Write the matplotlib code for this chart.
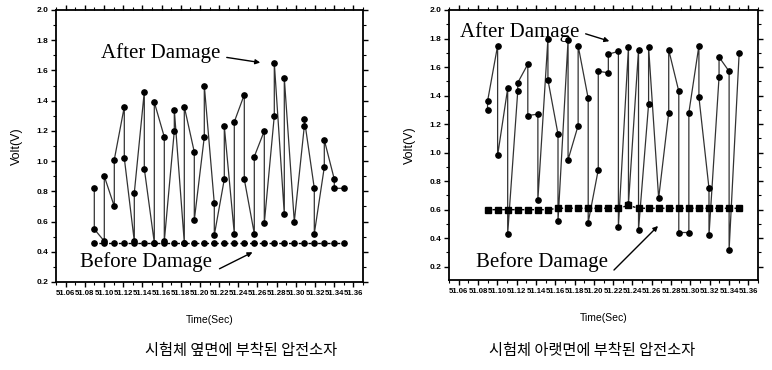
import matplotlib
matplotlib.use("Agg")
import matplotlib.pyplot as plt
from matplotlib.ticker import MultipleLocator, FixedLocator
import numpy as np

plt.rcParams['font.family'] = ['Liberation Sans', 'Noto Sans CJK KR', 'DejaVu Sans']

# ---------------- data ----------------
time_labels = ["51.06", "51.08", "51.10", "51.12", "51.14", "51.16", "51.18", "51.20",
               "51.22", "51.24", "51.26", "51.28", "51.30", "51.32", "51.34", "51.36"]

sample_times = [51.10, 51.11, 51.12, 51.13, 51.14, 51.15, 51.16, 51.17, 51.18, 51.19,
                51.20, 51.21, 51.22, 51.23, 51.24, 51.25, 51.26, 51.27, 51.28, 51.29,
                51.30, 51.31, 51.32, 51.33, 51.34, 51.35]

# Side-mounted sensor (left panel)
side_before = [0.46, 0.46, 0.46, 0.46, 0.46, 0.46, 0.46, 0.46, 0.46, 0.46, 0.46, 0.46, 0.46,
               0.46, 0.46, 0.46, 0.46, 0.46, 0.46, 0.46, 0.46, 0.46, 0.46, 0.46, 0.46, 0.46]
side_after_t = [51.10, 51.10, 51.11, 51.11, 51.12, 51.12, 51.13, 51.13, 51.14, 51.14,
                51.15, 51.15, 51.16, 51.16, 51.17, 51.17, 51.18, 51.18, 51.19, 51.19,
                51.20, 51.20, 51.21, 51.21, 51.22, 51.22, 51.23, 51.23, 51.24, 51.24,
                51.25, 51.25, 51.26, 51.26, 51.27, 51.27, 51.28, 51.28, 51.29, 51.29,
                51.30, 51.31, 51.31, 51.32, 51.32, 51.33, 51.33, 51.34, 51.34, 51.35]
side_after_v = [0.82, 0.55, 0.47, 0.90, 0.70, 1.01, 1.36, 1.02, 0.47, 0.79,
                1.46, 0.95, 0.46, 1.39, 1.16, 0.47, 1.20, 1.34, 0.46, 1.36,
                1.06, 0.61, 1.16, 1.50, 0.72, 0.51, 0.88, 1.23, 0.52, 1.26,
                1.44, 0.88, 0.52, 1.03, 1.20, 0.59, 1.30, 1.65, 0.65, 1.55,
                0.60, 1.23, 1.28, 0.82, 0.52, 0.96, 1.14, 0.88, 0.82, 0.82]

# Bottom-mounted sensor (right panel)
bottom_before = [0.60, 0.60, 0.60, 0.60, 0.60, 0.60, 0.60, 0.61, 0.61, 0.61, 0.61, 0.61, 0.61,
                 0.61, 0.63, 0.61, 0.61, 0.61, 0.61, 0.61, 0.61, 0.61, 0.61, 0.61, 0.61, 0.61]
bottom_after_t = [51.10, 51.10, 51.11, 51.11, 51.12, 51.12, 51.13, 51.13, 51.14, 51.14,
                  51.15, 51.15, 51.16, 51.16, 51.17, 51.17, 51.18, 51.18, 51.19, 51.19,
                  51.20, 51.20, 51.21, 51.21, 51.22, 51.22, 51.23, 51.23, 51.24, 51.24,
                  51.25, 51.25, 51.26, 51.26, 51.27, 51.28, 51.28, 51.29, 51.29, 51.30,
                  51.30, 51.31, 51.31, 51.32, 51.32, 51.33, 51.33, 51.34, 51.34, 51.35]
bottom_after_v = [1.30, 1.36, 1.75, 0.98, 1.45, 0.43, 1.43, 1.49, 1.62, 1.26,
                  1.27, 0.67, 1.80, 1.51, 1.13, 0.52, 1.79, 0.95, 1.19, 1.75,
                  1.38, 0.51, 0.88, 1.57, 1.56, 1.69, 1.71, 0.48, 1.74, 0.64,
                  1.72, 0.46, 1.34, 1.74, 0.68, 1.28, 1.72, 1.43, 0.44, 0.44,
                  1.28, 1.75, 1.39, 0.75, 0.42, 1.53, 1.67, 1.57, 0.32, 1.70]

captions = ["시험체 옆면에 부착된 압전소자", "시험체 아랫면에 부착된 압전소자"]

# ---------------- figure ----------------
W, H = 772, 370
fig = plt.figure(figsize=(W / 100, H / 100), dpi=100)


def fx(x):
    return x / W


def fy(y):
    return 1 - y / H


ax1 = fig.add_axes([fx(56), fy(282), fx(363) - fx(56), fy(10) - fy(282)])
ax2 = fig.add_axes([fx(449), fy(280), fx(758) - fx(449), fy(10) - fy(280)])

xlim = (51.0617, 51.3687)


def style(ax, ylim):
    ax.set_xlim(*xlim)
    ax.set_ylim(*ylim)
    w = xlim[1] - xlim[0]
    pos = [xlim[0] + (k + 0.5) * w / len(time_labels) for k in range(len(time_labels))]
    ax.xaxis.set_major_locator(FixedLocator(pos))
    ax.set_xticklabels(time_labels, fontsize=5.6, fontweight='bold')
    minor = [xlim[0] + k * w / len(time_labels) for k in range(len(time_labels) + 1)]
    ax.xaxis.set_minor_locator(FixedLocator(minor))
    ax.yaxis.set_minor_locator(MultipleLocator(0.1))
    ax.set_yticks(np.arange(0.2, 2.01, 0.2))
    ax.set_yticklabels([f"{v:.1f}" for v in np.arange(0.2, 2.01, 0.2)], fontsize=6.0, fontweight='bold')
    ax.tick_params(axis='both', which='major', direction='out', length=3.5, width=1.0, pad=2,
                   top=True, right=True)
    ax.tick_params(axis='both', which='minor', direction='out', length=2, width=0.8,
                   top=True, right=True)
    for s in ax.spines.values():
        s.set_linewidth(1.3)
    ax.set_ylabel("Volt(V)", fontsize=9, labelpad=10)
    ax.set_xlabel("Time(Sec)", fontsize=7.5, labelpad=13)


# left panel
ax1.plot(side_after_t, side_after_v, '-', color='#333333', lw=0.9, marker='o',
         markersize=3.8, markerfacecolor='black', markeredgecolor='black')
ax1.plot(sample_times, side_before, '--', color='black', lw=1.0, marker='o',
         markersize=3.8, markerfacecolor='black', markeredgecolor='black', dashes=(2, 1.5))
style(ax1, (0.2, 2.0))

# right panel
ax2.plot(bottom_after_t, bottom_after_v, '-', color='#333333', lw=0.9, marker='o',
         markersize=3.8, markerfacecolor='black', markeredgecolor='black')
ax2.plot(sample_times, bottom_before, '--', color='black', lw=1.0, marker='s',
         markersize=3.8, markerfacecolor='black', markeredgecolor='black', dashes=(2, 1.5))
style(ax2, (0.107, 2.0))

serif = 'Liberation Serif'
arrow = dict(arrowstyle='-|>', color='black', lw=1.0, mutation_scale=7)

# annotations (figure-pixel positions converted to fractions)
fig.text(fx(161), fy(53), "After Damage", family=serif, fontsize=15, ha='center', va='center')
fig.text(fx(146), fy(262), "Before Damage", family=serif, fontsize=15, ha='center', va='center')
fig.text(fx(520), fy(32), "After Damage", family=serif, fontsize=15, ha='center', va='center')
fig.text(fx(542), fy(262), "Before Damage", family=serif, fontsize=15, ha='center', va='center')

for (x0, y0, x1, y1) in [(224, 57, 263, 63), (217, 270, 255, 251),
                         (583, 33, 612, 42), (612, 272, 660, 224)]:
    fig.add_artist(matplotlib.patches.FancyArrowPatch(
        (fx(x0), fy(y0)), (fx(x1), fy(y1)), transform=fig.transFigure, **arrow))

fig.text(fx(241), fy(350), captions[0], family=['Noto Sans CJK KR'], fontsize=11,
         ha='center', va='center')
fig.text(fx(592), fy(350), captions[1], family=['Noto Sans CJK KR'], fontsize=11,
         ha='center', va='center')

fig.savefig("out.png", dpi=100)
